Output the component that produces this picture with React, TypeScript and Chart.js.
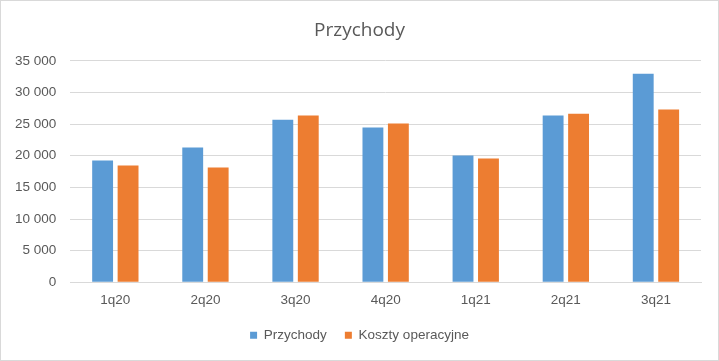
import React, { useEffect, useRef } from "react";
import { Chart, registerables } from "chart.js";

Chart.register(...registerables);

const categories = ["1q20", "2q20", "3q20", "4q20", "1q21", "2q21", "3q21"];
const przychody = [19250, 21300, 25700, 24450, 20050, 26350, 32950];
const koszty = [18450, 18150, 26350, 25100, 19550, 26650, 27300];
const yMax = 35000;
const yStep = 5000;

const titleFont = "'Open Sans', 'Liberation Sans', sans-serif";
const fontFamily = "'Liberation Sans', Arial, sans-serif";

function fmt(v: number): string {
  return String(v).replace(/\B(?=(\d{3})+(?!\d))/g, " ");
}

export default function App() {
  const ref = useRef<HTMLCanvasElement | null>(null);
  useEffect(() => {
    document.body.style.margin = "0";
    const chart = new Chart(ref.current as HTMLCanvasElement, {
      type: "bar",
      data: {
        labels: categories,
        datasets: [
          {
            label: "Przychody",
            data: przychody,
            backgroundColor: "#5B9BD5",
            barPercentage: 0.82,
            categoryPercentage: 0.565,
          },
          {
            label: "Koszty operacyjne",
            data: koszty,
            backgroundColor: "#ED7D31",
            barPercentage: 0.82,
            categoryPercentage: 0.565,
          },
        ],
      },
      options: {
        animation: false,
        responsive: false,
        maintainAspectRatio: false,
        layout: { padding: { left: 0, right: 0, top: 6, bottom: 8 } },
        plugins: {
          title: {
            display: true,
            text: "Przychody",
            color: "#595959",
            font: { family: titleFont, size: 19, weight: "normal" },
            padding: { top: 12, bottom: 19 },
          },
          legend: {
            position: "bottom",
            labels: {
              color: "#595959",
              font: { family: fontFamily, size: 13.5 },
              boxWidth: 7,
              boxHeight: 7,
              padding: 18,
            },
          },
          tooltip: { enabled: false },
        },
        scales: {
          x: {
            grid: { display: false },
            border: { color: "#d9d9d9" },
            ticks: {
              color: "#595959",
              font: { family: fontFamily, size: 13.5 },
              padding: 2,
            },
          },
          y: {
            min: 0,
            max: yMax,
            grid: { color: "#d9d9d9", drawTicks: false },
            border: { display: false },
            ticks: {
              stepSize: yStep,
              color: "#595959",
              font: { family: fontFamily, size: 13.5 },
              padding: 14,
              callback: (v: any) => fmt(Number(v)),
            },
          },
          yRight: {
            position: "right",
            display: true,
            min: 0,
            max: yMax,
            grid: { display: false, drawTicks: false },
            border: { display: false },
            ticks: { display: false },
            afterFit: (s: any) => {
              s.width = 17;
            },
          },
        },
      },
    });
    return () => chart.destroy();
  }, []);
  return (
    <div
      style={{
        position: "absolute",
        left: 0,
        top: 0,
        width: 719,
        height: 361,
        boxSizing: "border-box",
        border: "1px solid #d9d9d9",
        background: "#fff",
      }}
    >
      <canvas ref={ref} width={717} height={359} style={{ display: "block" }} />
    </div>
  );
}
